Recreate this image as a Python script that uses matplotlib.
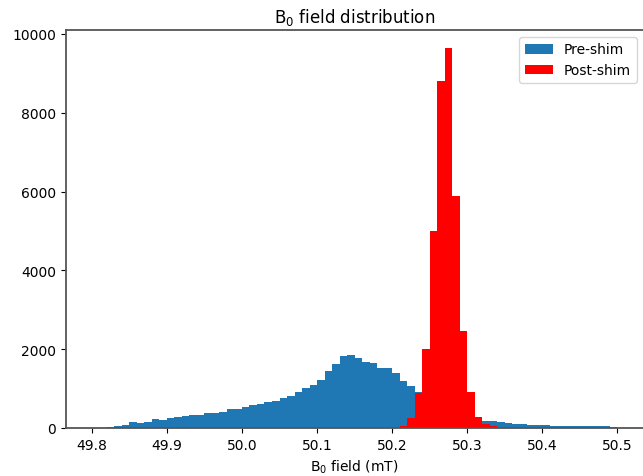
import numpy as np
import matplotlib
matplotlib.use("Agg")
import matplotlib.pyplot as plt

# bin width 0.01 mT
BIN = 0.01

# Pre-shim counts, bins starting at 49.82 mT
pre_start = 49.82
pre_counts = [
    30, 60, 85, 160, 125, 150, 235, 195, 260, 290,
    295, 320, 320, 380, 380, 415, 490, 470, 525, 585,
    610, 650, 695, 770, 820, 905, 1005, 1090, 1210, 1445,
    1615, 1835, 1850, 1770, 1685, 1640, 1530, 1530, 1400, 1200,
    1060, 920, 780, 650, 540, 450, 380, 320, 270, 230,
    190, 180, 150, 135, 110, 100, 80, 75, 70, 50,
    48, 46, 45, 44, 42, 40, 40, 38,
]

# Post-shim counts, bins starting at 50.21 mT
post_start = 50.21
post_counts = [60, 245, 880, 2005, 5010, 8800, 9635, 5900, 2455, 905, 270, 100, 40]


def edges_for(start, n):
    return np.round(start + BIN * np.arange(n + 1), 4)


pre_edges = edges_for(pre_start, len(pre_counts))
post_edges = edges_for(post_start, len(post_counts))

fig = plt.figure(figsize=(6.43, 4.77), dpi=100)
ax = fig.add_axes((66 / 643, 48 / 477, 577.5 / 643, 398 / 477))

ax.hist(pre_edges[:-1] + BIN / 2, bins=pre_edges, weights=pre_counts,
        color="#1f77b4", label="Pre-shim")
ax.hist(post_edges[:-1] + BIN / 2, bins=post_edges, weights=post_counts,
        color="red", label="Post-shim")

ax.set_xlim(49.7657, 50.5347)
ax.set_ylim(0, 10101)
ax.set_xticks([49.8, 49.9, 50.0, 50.1, 50.2, 50.3, 50.4, 50.5])
ax.set_yticks([0, 2000, 4000, 6000, 8000, 10000])

for s in ax.spines.values():
    s.set_color("#555555")
    s.set_linewidth(1.3)

ax.set_title("B$_0$ field distribution", fontsize=12)
ax.set_xlabel("B$_0$ field (mT)")
ax.legend(loc="upper right")

fig.savefig("out.png", dpi=100)
